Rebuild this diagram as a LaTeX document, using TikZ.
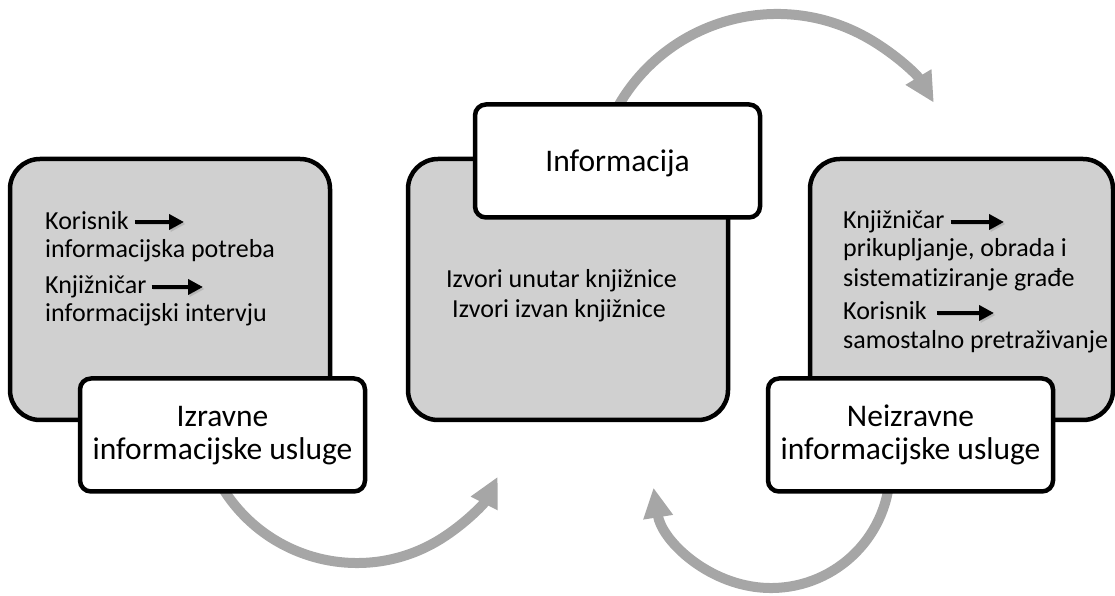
\documentclass[tikz,border=0pt]{standalone}
\usepackage{fontspec}
\setmainfont{Carlito}[Ligatures=NoCommon]
\usetikzlibrary{arrows.meta}
\definecolor{boxgray}{RGB}{208,208,208}
\definecolor{arrowgray}{RGB}{166,166,166}
\begin{document}
\begin{tikzpicture}[x=1pt,y=1pt,
  graybox/.style={draw=black, line width=4.5pt, fill=boxgray, rounded corners=30pt, inner sep=0pt},
  whitebox/.style={draw=black, line width=4.5pt, fill=white, rounded corners=11pt, inner sep=0pt, minimum width=285pt, minimum height=113pt},
  cyclearrow/.style={draw=arrowgray, line width=10pt, -{Triangle[length=30pt,width=28pt]}},
  smallarrow/.style={draw=black, line width=4.5pt, -{Triangle[length=15pt,width=15pt]},
    preaction={draw=black!40, opacity=0.45, transform canvas={shift={(1.5pt,-2pt)}}}},
  bodytext/.style={font=\fontsize{26}{30}\selectfont, inner sep=0pt, anchor=base west},
  midtext/.style={font=\fontsize{26}{30}\selectfont, inner sep=0pt, anchor=base},
  labeltext/.style={font=\fontsize{31.5}{36}\selectfont, inner sep=0pt, anchor=base}]
\useasboundingbox (0,0) rectangle (1115,596);

% cycle arrows (behind the boxes)
\coordinate (c1) at (777,399);
\coordinate (c2) at (357,191);
\coordinate (c3) at (771,127);
\draw[cyclearrow] ([shift={(152:183)}]c1) arc[start angle=152, end angle=31, radius=183];
\draw[cyclearrow] ([shift={(210:158)}]c2) arc[start angle=210, end angle=333, radius=158];
\draw[cyclearrow] ([shift={(-8:119)}]c3) arc[start angle=-8, end angle=-171, radius=119];

% gray boxes
\node[graybox, minimum width=320pt, minimum height=261pt] (lbox) at (170,306.5) {};
\node[graybox, minimum width=320pt, minimum height=261pt] (mbox) at (568,306.5) {};
\node[graybox, minimum width=303pt, minimum height=261pt] (rbox) at (961.5,306.5) {};

% white label boxes
\node[whitebox] (lhead) at (222.5,161) {};
\node[whitebox] (mhead) at (617.5,435) {};
\node[whitebox] (rhead) at (910.5,161) {};

% label texts
\node[labeltext] (lh1) at (222.5,169) {Izravne};
\node[labeltext] (lh2) at (222.5,136) {informacijske usluge};
\node[labeltext] (mh1) at (617.5,424) {Informacija};
\node[labeltext] (rh1) at (910.5,169) {Neizravne};
\node[labeltext] (rh2) at (910.5,136) {informacijske usluge};

% left box text
\node[bodytext] (l1) at (45,366) {Korisnik};
\node[bodytext] (l2) at (45,338) {informacijska potreba};
\node[bodytext] (l3) at (45,302) {Knjižničar};
\node[bodytext] (l4) at (45,274) {informacijski intervju};
\coordinate (l1e) at (184,374);
\coordinate (l3e) at (203,309);
\draw[smallarrow] (l1.east |- l1e) ++(6,0) -- (l1e);
\draw[smallarrow] (l3.east |- l3e) ++(5,0) -- (l3e);

% middle box text
\node[midtext] (m1) at (561.5,308) {Izvori unutar knjižnice};
\node[midtext] (m2) at (559,278) {Izvori izvan knjižnice};

% right box text
\node[bodytext] (r1) at (843,367) {Knjižničar};
\node[bodytext] (r2) at (843,339) {prikupljanje, obrada i};
\node[bodytext] (r3) at (843,309) {sistematiziranje građe};
\node[bodytext] (r4) at (843,276) {Korisnik};
\node[bodytext] (r5) at (843,247) {samostalno pretraživanje};
\coordinate (r1e) at (1004,374);
\coordinate (r4e) at (994,283);
\draw[smallarrow] (r1.east |- r1e) ++(6,0) -- (r1e);
\draw[smallarrow] (r4.east |- r4e) ++(10,0) -- (r4e);
\end{tikzpicture}
\end{document}
